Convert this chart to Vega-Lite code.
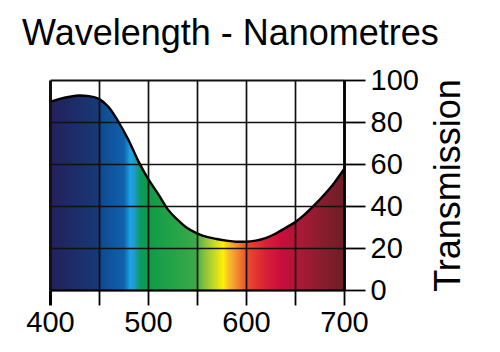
{
  "$schema": "https://vega.github.io/schema/vega-lite/v6.json",
  "width": 294,
  "height": 210,
  "autosize": {"type": "none"},
  "padding": {"left": 50, "top": 80, "right": 156, "bottom": 62},
  "background": "white",
  "title": {
    "text": "Wavelength - Nanometres",
    "anchor": "start",
    "frame": "group",
    "dx": -28,
    "offset": -15,
    "font": "Liberation Sans",
    "fontSize": 36,
    "fontWeight": "normal",
    "color": "black",
    "baseline": "alphabetic"
  },
  "config": {
    "view": {"stroke": null},
    "axis": {
      "labelFont": "Liberation Sans",
      "labelFontSize": 29,
      "labelColor": "black",
      "titleFont": "Liberation Sans",
      "titleFontWeight": "normal",
      "titleColor": "black",
      "domainColor": "black",
      "tickColor": "black",
      "gridColor": "#111111",
      "gridOpacity": 1
    }
  },
  "data": {
    "values": [
      {"wavelength": 400, "transmission": 89.5},
      {"wavelength": 410, "transmission": 91},
      {"wavelength": 420, "transmission": 92},
      {"wavelength": 430, "transmission": 92.6},
      {"wavelength": 440, "transmission": 92.3},
      {"wavelength": 450, "transmission": 91},
      {"wavelength": 460, "transmission": 87},
      {"wavelength": 470, "transmission": 80},
      {"wavelength": 480, "transmission": 71.5},
      {"wavelength": 490, "transmission": 61.5},
      {"wavelength": 500, "transmission": 53},
      {"wavelength": 510, "transmission": 46},
      {"wavelength": 520, "transmission": 38.5},
      {"wavelength": 530, "transmission": 33.5},
      {"wavelength": 540, "transmission": 29.5},
      {"wavelength": 550, "transmission": 27},
      {"wavelength": 560, "transmission": 25.3},
      {"wavelength": 570, "transmission": 24.3},
      {"wavelength": 580, "transmission": 23.5},
      {"wavelength": 590, "transmission": 23},
      {"wavelength": 600, "transmission": 23},
      {"wavelength": 610, "transmission": 23.5},
      {"wavelength": 620, "transmission": 24.7},
      {"wavelength": 630, "transmission": 26.8},
      {"wavelength": 640, "transmission": 29.5},
      {"wavelength": 650, "transmission": 32.3},
      {"wavelength": 660, "transmission": 36},
      {"wavelength": 670, "transmission": 40.5},
      {"wavelength": 680, "transmission": 45.5},
      {"wavelength": 690, "transmission": 51},
      {"wavelength": 700, "transmission": 57.5}
    ]
  },
  "encoding": {
    "x": {
      "field": "wavelength",
      "type": "quantitative",
      "scale": {"domain": [400, 700], "nice": false, "zero": false},
      "axis": {
        "orient": "bottom",
        "title": null,
        "values": [400, 450, 500, 550, 600, 650, 700],
        "labelExpr": "datum.value % 100 == 0 ? datum.label : ''",
        "labelFlush": false,
        "labelOverlap": false,
        "tickSize": 15,
        "tickWidth": {"condition": {"test": "datum.value == 400", "value": 3}, "value": 1.8},
        "labelPadding": 3,
        "domainWidth": 2.2,
        "grid": true,
        "gridWidth": {"condition": {"test": "datum.value == 400", "value": 3}, "value": 1.7},
        "zindex": 1
      }
    },
    "y": {
      "field": "transmission",
      "type": "quantitative",
      "scale": {"domain": [0, 100], "nice": false},
      "axis": {
        "orient": "right",
        "title": "Transmission",
        "titleFontSize": 36,
        "titleAngle": 270,
        "titleBaseline": "top",
        "titlePadding": 13,
        "values": [0, 20, 40, 60, 80, 100],
        "tickSize": 21,
        "tickWidth": 1.8,
        "labelPadding": 5,
        "labelOverlap": false,
        "labelFlush": false,
        "domainWidth": 2.8,
        "grid": true,
        "gridWidth": {"condition": {"test": "datum.value == 100", "value": 2}, "value": 1.7},
        "zindex": 1
      }
    }
  },
  "layer": [
    {
      "mark": {
        "type": "area",
        "interpolate": "monotone",
        "color": {
          "gradient": "linear",
          "x1": 0, "x2": 1, "y1": 0, "y2": 0,
          "stops": [
            {"offset": 0, "color": "#23205a"},
            {"offset": 0.17, "color": "#173a78"},
            {"offset": 0.177, "color": "#0e4c93"},
            {"offset": 0.252, "color": "#1062ad"},
            {"offset": 0.273, "color": "#1ea3e8"},
            {"offset": 0.286, "color": "#1c9ccc"},
            {"offset": 0.307, "color": "#0c9a60"},
            {"offset": 0.33, "color": "#0d9b48"},
            {"offset": 0.494, "color": "#3aaa48"},
            {"offset": 0.528, "color": "#8cc43c"},
            {"offset": 0.569, "color": "#d8e020"},
            {"offset": 0.589, "color": "#fff200"},
            {"offset": 0.606, "color": "#f8c02c"},
            {"offset": 0.637, "color": "#f28a30"},
            {"offset": 0.671, "color": "#ea4a2e"},
            {"offset": 0.733, "color": "#da2036"},
            {"offset": 0.79, "color": "#c80c3c"},
            {"offset": 0.852, "color": "#a81a36"},
            {"offset": 1, "color": "#6c1e26"}
          ]
        }
      }
    },
    {
      "mark": {"type": "line", "interpolate": "monotone", "color": "black", "strokeWidth": 2.4}
    }
  ]
}
